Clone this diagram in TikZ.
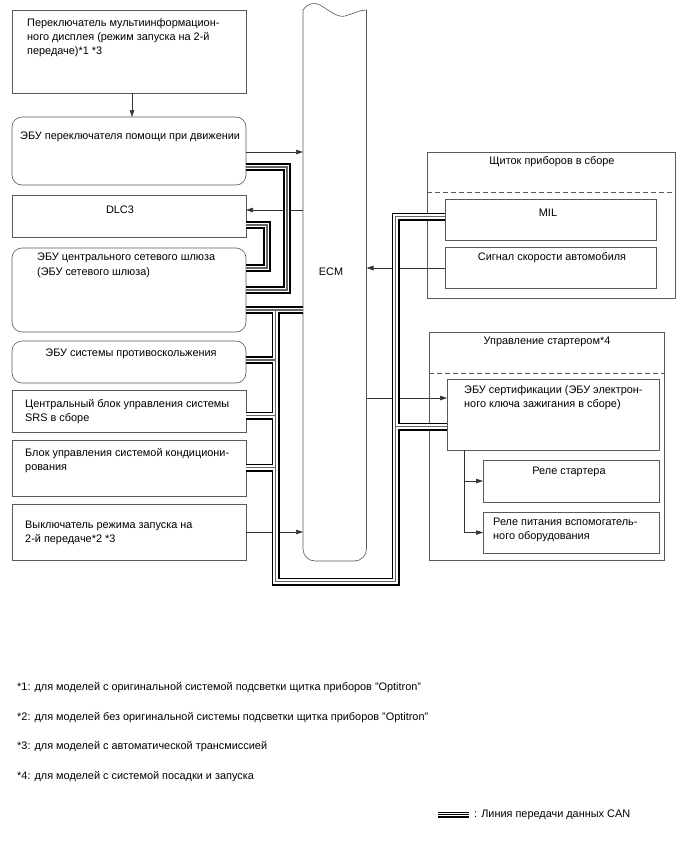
\documentclass[tikz,border=0pt]{standalone}
\usepackage{fontspec}
\setmainfont{Liberation Sans}
\usetikzlibrary{arrows.meta,calc}
\begin{document}
\begin{tikzpicture}[x=1pt,y=-1pt,
  font=\fontsize{10.9}{14.2}\selectfont,
  box/.style={draw=black!65, line width=0.6pt, anchor=north west, inner sep=0pt, outer sep=0pt},
  rbox/.style={box, rounded corners=10pt},
  txt/.style={anchor=north west, inner sep=0pt, align=left},
  ctxt/.style={anchor=center, inner sep=0pt, align=center},
  arr/.style={draw=black!80, line width=0.6pt, -{Triangle[length=7pt,width=4.5pt]}},
  grp/.style={draw=black!65, line width=0.6pt},
  dsh/.style={draw=black!65, line width=0.6pt, dash pattern=on 5pt off 3pt}]
\useasboundingbox (0,0) rectangle (688,852);
\fill[white] (0,0) rectangle (688,852);

% ---------------- left boxes ----------------
\node[box, minimum width=234pt, minimum height=83pt] (b1) at (12,10) {};
\node[txt] (t1) at (27,18) {Переключатель мультиинформацион-\\ного дисплея (режим запуска на 2-й\\передаче)*1 *3};

\node[rbox, minimum width=234pt, minimum height=68pt] (b2) at (12,117) {};
\node[txt] (t2) at (20,132) {ЭБУ переключателя помощи при движении};

\node[box, minimum width=234pt, minimum height=42pt] (dlc) at (12,195) {};
\node[ctxt] (tdlc) at (120,210) {DLC3};

\node[rbox, minimum width=234pt, minimum height=84pt] (gw) at (12,248) {};
\node[txt] (tgw) at (37,253) {ЭБУ центрального сетевого шлюза\\(ЭБУ сетевого шлюза)};

\node[rbox, minimum width=234pt, minimum height=42pt] (as) at (12,341) {};
\node[ctxt] (tas) at (131,354) {ЭБУ системы противоскольжения};

\node[box, minimum width=234pt, minimum height=42pt] (srs) at (12,390) {};
\node[txt] (tsrs) at (25,399) {Центральный блок управления системы\\SRS в сборе};

\node[box, minimum width=234pt, minimum height=56pt] (ac) at (12,440) {};
\node[txt] (tac) at (25,448) {Блок управления системой кондициони-\\рования};

\node[box, minimum width=234pt, minimum height=56pt] (sw) at (12,504) {};
\node[txt] (tsw) at (25,521) {Выключатель режима запуска на\\2-й передаче*2 *3};

% ---------------- ECM ----------------
\draw[grp] (303,10) .. controls (308,3) and (314,2) .. (320,5)
  .. controls (330,11) and (338,18) .. (345,16)
  .. controls (352,14) and (360,10) .. (366.5,10)
  -- (366.5,549) .. controls (366.5,555.6) and (361.1,561) .. (354.5,561)
  -- (315,561) .. controls (308.4,561) and (303,555.6) .. (303,549) -- cycle;
\node[ctxt] (ecm) at (331,272) {ECM};
\coordinate (ecmL) at (303,300);
\coordinate (ecmR) at (366.5,300);

% ---------------- right: instrument cluster ----------------
\node[box, minimum width=248pt, minimum height=146pt] (cl) at (427,152) {};
\node[ctxt] (tcl) at (552,162) {Щиток приборов в сборе};
\draw[dsh] ($(cl.north west)+(0,40)$) -- ($(cl.north east)+(0,40)$);
\node[box, minimum width=211pt, minimum height=41pt] (mil) at (445,199) {};
\node[ctxt] (tmil) at (548,213) {MIL};
\node[box, minimum width=211pt, minimum height=41pt] (spd) at (445,247) {};
\node[ctxt] (tspd) at (552,258) {Сигнал скорости автомобиля};

% ---------------- right: starter control ----------------
\node[box, minimum width=235pt, minimum height=228pt] (sg) at (429,332) {};
\node[ctxt] (tsg) at (547,342) {Управление стартером*4};
\draw[dsh] ($(sg.north west)+(0,41)$) -- ($(sg.north east)+(0,41)$);
\node[box, minimum width=212pt, minimum height=71pt] (cert) at (447,379) {};
\node[txt] (tcert) at (464,385) {ЭБУ сертификации (ЭБУ электрон-\\ного ключа зажигания в сборе)};
\node[box, minimum width=176pt, minimum height=42pt] (sr) at (483,460) {};
\node[ctxt] (tsr) at (569,472) {Реле стартера};
\node[box, minimum width=176pt, minimum height=41pt] (ar) at (483,512) {};
\node[txt] (tar) at (493,518) {Реле питания вспомогатель-\\ного оборудования};

% ---------------- plain signal lines ----------------
\draw[arr] (132,93) coordinate (a1s) -- (b2.north -| a1s);
\draw[arr] (b2.east |- 0,152) coordinate (a2s) -- (ecmL |- a2s);
\coordinate (ydlc) at (0,210);
\draw[arr] (ecmL |- ydlc) -- (dlc.east |- ydlc);
\draw[arr] (sw.east |- 0,532) coordinate (a3s) -- (ecmL |- a3s);
\draw[arr] (spd.west |- 0,268) coordinate (a4s) -- (ecmR |- a4s);
\coordinate (ycert) at (0,398);
\draw[arr] (ecmR |- ycert) -- (cert.west |- ycert);
\coordinate (brk) at (464,450);
\draw[arr] (brk) |- (sr.west);
\draw[arr] (brk) |- (ar.west);

% ---------------- CAN network ----------------
\coordinate (k1) at (287,167);
\coordinate (k2) at (287,290);
\coordinate (k3) at (267,225);
\coordinate (k4) at (267,268);
\coordinate (bt) at (275.5,310);
\coordinate (bl) at (275.5,581.5);
\coordinate (br) at (395.5,581.5);
\coordinate (bm) at (395.5,216.5);
\coordinate (bc) at (395.5,426.5);
\coordinate (ya) at (0,360);
\coordinate (ys) at (0,415.5);
\coordinate (yc) at (0,467.5);
\newcommand\cannet{(b2.east |- k1) -- (k1) -- (k2) -- (gw.east |- k2)
  (dlc.east |- k3) -- (k3) -- (k4) -- (gw.east |- k4)
  (gw.east |- bt) -- (ecmL |- bt)
  (bt) -- (bl) -- (br) -- (bm) -- (mil.west |- bm)
  (as.east |- ya) -- (bt |- ya)
  (srs.east |- ys) -- (bt |- ys)
  (ac.east |- yc) -- (bt |- yc)
  (bc) -- (cert.west |- bc)}
\draw[black, line width=8pt] \cannet;
\draw[white, line width=4.4pt] \cannet;
\draw[black!60, line width=1.5pt] \cannet;

% ---------------- footnotes ----------------
\node[anchor=west, inner sep=0pt] (f1) at (17,688) {*1: для моделей с оригинальной системой подсветки щитка приборов "Optitron"};
\node[anchor=west, inner sep=0pt] (f2) at (17,718) {*2: для моделей без оригинальной системы подсветки щитка приборов "Optitron"};
\node[anchor=west, inner sep=0pt] (f3) at (17,747) {*3: для моделей с автоматической трансмиссией};
\node[anchor=west, inner sep=0pt] (f4) at (17,777) {*4: для моделей с системой посадки и запуска};

% ---------------- legend ----------------
\coordinate (lg1) at (438,812.5);
\coordinate (lg2) at (469,812.5);
\draw[black, line width=0.8pt] (lg1) -- (lg2);
\draw[black, line width=0.8pt] ($(lg1)+(0,2.3)$) -- ($(lg2)+(0,2.3)$);
\draw[black, line width=1.4pt] ($(lg1)+(0,4.6)$) -- ($(lg2)+(0,4.6)$);
\node[anchor=west, inner sep=0pt] (lgt) at (474,815) {: Линия передачи данных CAN};
\end{tikzpicture}
\end{document}
